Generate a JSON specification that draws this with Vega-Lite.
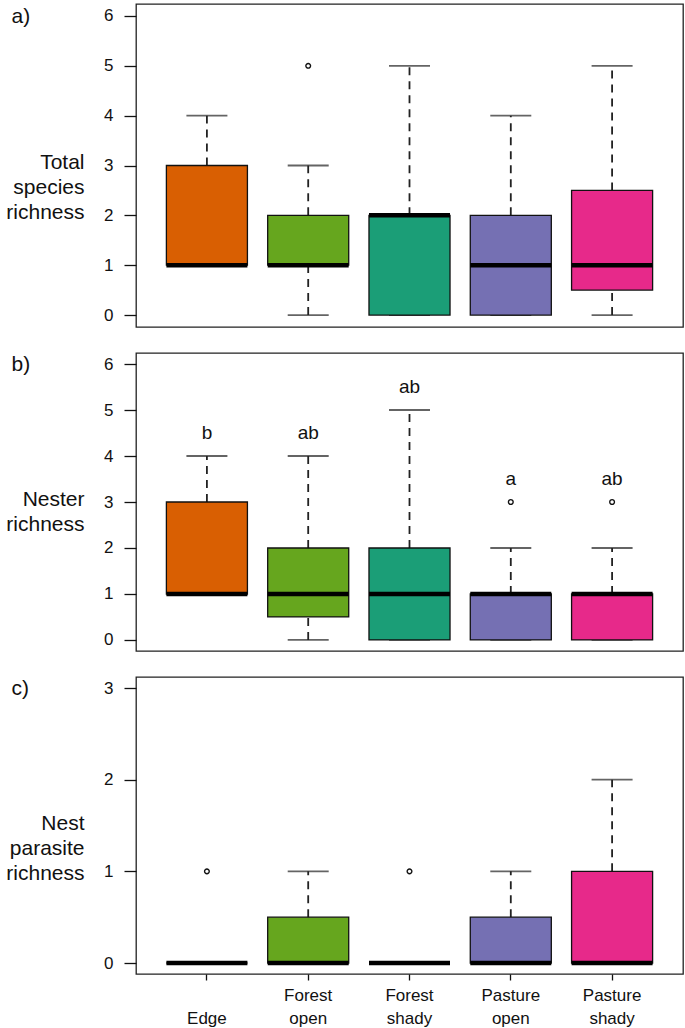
{
  "$schema": "https://vega.github.io/schema/vega-lite/v6.json",
  "padding": {"left": 5, "top": 3, "right": 3, "bottom": 0},
  "background": "white",
  "spacing": 24,
  "config": {
    "font": "Liberation Sans",
    "view": {"stroke": "#222", "strokeWidth": 1.3},
    "axis": {"grid": false, "labelFont": "Liberation Sans", "labelFontSize": 17, "labelColor": "#111", "tickColor": "#111", "tickWidth": 1.3, "domain": false, "titleFont": "Liberation Sans", "titleFontWeight": "normal", "titleColor": "#111"}
  },
  "datasets": {
    "boxes": [
      {"panel": "a", "habitat": "Edge", "lo": 1, "q1": 1, "med": 1, "q3": 3, "hi": 4},
      {"panel": "a", "habitat": "Forest open", "lo": 0, "q1": 1, "med": 1, "q3": 2, "hi": 3},
      {"panel": "a", "habitat": "Forest shady", "lo": 0, "q1": 0, "med": 2, "q3": 2, "hi": 5},
      {"panel": "a", "habitat": "Pasture open", "lo": 0, "q1": 0, "med": 1, "q3": 2, "hi": 4},
      {"panel": "a", "habitat": "Pasture shady", "lo": 0, "q1": 0.5, "med": 1, "q3": 2.5, "hi": 5},
      {"panel": "b", "habitat": "Edge", "lo": 1, "q1": 1, "med": 1, "q3": 3, "hi": 4},
      {"panel": "b", "habitat": "Forest open", "lo": 0, "q1": 0.5, "med": 1, "q3": 2, "hi": 4},
      {"panel": "b", "habitat": "Forest shady", "lo": 0, "q1": 0, "med": 1, "q3": 2, "hi": 5},
      {"panel": "b", "habitat": "Pasture open", "lo": 0, "q1": 0, "med": 1, "q3": 1, "hi": 2},
      {"panel": "b", "habitat": "Pasture shady", "lo": 0, "q1": 0, "med": 1, "q3": 1, "hi": 2},
      {"panel": "c", "habitat": "Edge", "lo": 0, "q1": 0, "med": 0, "q3": 0, "hi": 0},
      {"panel": "c", "habitat": "Forest open", "lo": 0, "q1": 0, "med": 0, "q3": 0.5, "hi": 1},
      {"panel": "c", "habitat": "Forest shady", "lo": 0, "q1": 0, "med": 0, "q3": 0, "hi": 0},
      {"panel": "c", "habitat": "Pasture open", "lo": 0, "q1": 0, "med": 0, "q3": 0.5, "hi": 1},
      {"panel": "c", "habitat": "Pasture shady", "lo": 0, "q1": 0, "med": 0, "q3": 1, "hi": 2}
    ],
    "outliers": [
      {"panel": "a", "habitat": "Forest open", "value": 5},
      {"panel": "b", "habitat": "Pasture open", "value": 3},
      {"panel": "b", "habitat": "Pasture shady", "value": 3},
      {"panel": "c", "habitat": "Edge", "value": 1},
      {"panel": "c", "habitat": "Forest shady", "value": 1}
    ],
    "letters": [
      {"habitat": "Edge", "label": "b", "pos": 4.5},
      {"habitat": "Forest open", "label": "ab", "pos": 4.5},
      {"habitat": "Forest shady", "label": "ab", "pos": 5.5},
      {"habitat": "Pasture open", "label": "a", "pos": 3.5},
      {"habitat": "Pasture shady", "label": "ab", "pos": 3.5}
    ]
  },
  "vconcat": [
    {
      "width": 547, "height": 323,
      "layer": [
        {"data": {"name": "boxes"}, "transform": [{"filter": "datum.panel == 'a'"}], "mark": {"type": "rule", "color": "#222", "strokeWidth": 1.8, "strokeDash": [8, 6]},
         "encoding": {"x": {"field": "habitat", "type": "nominal", "scale": {"type": "band", "domain": ["Edge", "Forest open", "Forest shady", "Pasture open", "Pasture shady"], "paddingInner": 0.2, "paddingOuter": 0.3},
             "axis": {"orient": "top", "labels": false, "ticks": false, "domain": false, "title": "a)", "titleFontSize": 21, "titleX": -125, "titleY": 12, "titleAlign": "left", "titleBaseline": "middle", "titleAngle": 0}},
           "y": {"field": "q3", "type": "quantitative", "scale": {"domain": [-0.24, 6.24], "nice": false, "zero": false}, "axis": {"values": [0, 1, 2, 3, 4, 5, 6], "format": "d", "labelFontSize": 17, "tickSize": 12, "labelPadding": 11, "title": ["Total", "species", "richness"], "titleFontSize": 21, "titleLineHeight": 25, "titleAngle": 0, "titleAlign": "right", "titleBaseline": "middle", "titleX": -52, "titleY": 158}},
           "y2": {"field": "hi"}}},
        {"data": {"name": "boxes"}, "transform": [{"filter": "datum.panel == 'a'"}], "mark": {"type": "rule", "color": "#222", "strokeWidth": 1.8, "strokeDash": [8, 6]},
         "encoding": {"x": {"field": "habitat", "type": "nominal"}, "y": {"field": "lo", "type": "quantitative"}, "y2": {"field": "q1"}}},
        {"data": {"name": "boxes"}, "transform": [{"filter": "datum.panel == 'a'"}, {"fold": ["lo", "hi"], "as": ["which", "cap"]}], "mark": {"type": "tick", "color": "#222", "size": 41, "thickness": 1.8, "orient": "horizontal"},
         "encoding": {"x": {"field": "habitat", "type": "nominal"}, "y": {"field": "cap", "type": "quantitative"}}},
        {"data": {"name": "boxes"}, "transform": [{"filter": "datum.panel == 'a'"}], "mark": {"type": "bar", "stroke": "#111", "strokeWidth": 1.3},
         "encoding": {"x": {"field": "habitat", "type": "nominal"}, "y": {"field": "q1", "type": "quantitative"}, "y2": {"field": "q3"},
           "color": {"field": "habitat", "type": "nominal", "scale": {"domain": ["Edge", "Forest open", "Forest shady", "Pasture open", "Pasture shady"], "range": ["#D95F02", "#66A61E", "#1B9E77", "#7570B3", "#E7298A"]}, "legend": null}}},
        {"data": {"name": "boxes"}, "transform": [{"filter": "datum.panel == 'a'"}], "mark": {"type": "tick", "color": "#000", "size": 81, "thickness": 4.5, "orient": "horizontal", "opacity": 1},
         "encoding": {"x": {"field": "habitat", "type": "nominal"}, "y": {"field": "med", "type": "quantitative"}}},
        {"data": {"name": "outliers"}, "transform": [{"filter": "datum.panel == 'a'"}], "mark": {"type": "point", "shape": "circle", "filled": false, "stroke": "#111", "strokeWidth": 1.4, "size": 22, "opacity": 1},
         "encoding": {"x": {"field": "habitat", "type": "nominal"}, "y": {"field": "value", "type": "quantitative"}}}
      ]
    },
    {
      "width": 547, "height": 298,
      "layer": [
        {"data": {"name": "boxes"}, "transform": [{"filter": "datum.panel == 'b'"}], "mark": {"type": "rule", "color": "#222", "strokeWidth": 1.8, "strokeDash": [8, 6]},
         "encoding": {"x": {"field": "habitat", "type": "nominal", "scale": {"type": "band", "domain": ["Edge", "Forest open", "Forest shady", "Pasture open", "Pasture shady"], "paddingInner": 0.2, "paddingOuter": 0.3},
             "axis": {"orient": "top", "labels": false, "ticks": false, "domain": false, "title": "b)", "titleFontSize": 21, "titleX": -125, "titleY": 11, "titleAlign": "left", "titleBaseline": "middle", "titleAngle": 0}},
           "y": {"field": "q3", "type": "quantitative", "scale": {"domain": [-0.24, 6.24], "nice": false, "zero": false}, "axis": {"values": [0, 1, 2, 3, 4, 5, 6], "format": "d", "labelFontSize": 17, "tickSize": 12, "labelPadding": 11, "title": ["Nester", "richness"], "titleFontSize": 21, "titleLineHeight": 25, "titleAngle": 0, "titleAlign": "right", "titleBaseline": "middle", "titleX": -52, "titleY": 146}},
           "y2": {"field": "hi"}}},
        {"data": {"name": "boxes"}, "transform": [{"filter": "datum.panel == 'b'"}], "mark": {"type": "rule", "color": "#222", "strokeWidth": 1.8, "strokeDash": [8, 6]},
         "encoding": {"x": {"field": "habitat", "type": "nominal"}, "y": {"field": "lo", "type": "quantitative"}, "y2": {"field": "q1"}}},
        {"data": {"name": "boxes"}, "transform": [{"filter": "datum.panel == 'b'"}, {"fold": ["lo", "hi"], "as": ["which", "cap"]}], "mark": {"type": "tick", "color": "#222", "size": 41, "thickness": 1.8, "orient": "horizontal"},
         "encoding": {"x": {"field": "habitat", "type": "nominal"}, "y": {"field": "cap", "type": "quantitative"}}},
        {"data": {"name": "boxes"}, "transform": [{"filter": "datum.panel == 'b'"}], "mark": {"type": "bar", "stroke": "#111", "strokeWidth": 1.3},
         "encoding": {"x": {"field": "habitat", "type": "nominal"}, "y": {"field": "q1", "type": "quantitative"}, "y2": {"field": "q3"},
           "color": {"field": "habitat", "type": "nominal", "scale": {"domain": ["Edge", "Forest open", "Forest shady", "Pasture open", "Pasture shady"], "range": ["#D95F02", "#66A61E", "#1B9E77", "#7570B3", "#E7298A"]}, "legend": null}}},
        {"data": {"name": "boxes"}, "transform": [{"filter": "datum.panel == 'b'"}], "mark": {"type": "tick", "color": "#000", "size": 81, "thickness": 4.5, "orient": "horizontal", "opacity": 1},
         "encoding": {"x": {"field": "habitat", "type": "nominal"}, "y": {"field": "med", "type": "quantitative"}}},
        {"data": {"name": "outliers"}, "transform": [{"filter": "datum.panel == 'b'"}], "mark": {"type": "point", "shape": "circle", "filled": false, "stroke": "#111", "strokeWidth": 1.4, "size": 22, "opacity": 1},
         "encoding": {"x": {"field": "habitat", "type": "nominal"}, "y": {"field": "value", "type": "quantitative"}}},
        {"data": {"name": "letters"}, "mark": {"type": "text", "fontSize": 19, "color": "#111", "baseline": "middle"},
         "encoding": {"x": {"field": "habitat", "type": "nominal"}, "y": {"field": "pos", "type": "quantitative"}, "text": {"field": "label"}}}
      ]
    },
    {
      "width": 547, "height": 297,
      "resolve": {"axis": {"x": "independent"}},
      "layer": [
        {"data": {"name": "boxes"}, "transform": [{"filter": "datum.panel == 'c'"}], "mark": {"type": "rule", "color": "#222", "strokeWidth": 1.8, "strokeDash": [8, 6]},
         "encoding": {"x": {"field": "habitat", "type": "nominal", "scale": {"type": "band", "domain": ["Edge", "Forest open", "Forest shady", "Pasture open", "Pasture shady"], "paddingInner": 0.2, "paddingOuter": 0.3},
             "axis": {"orient": "bottom", "title": null, "labelAngle": 0, "labelFontSize": 17, "tickSize": 6, "labelPadding": 7, "labelLineHeight": 23, "labelBaseline": "top", "labelExpr": "datum.label == 'Edge' ? ['', 'Edge'] : split(datum.label, ' ')"}},
           "y": {"field": "q3", "type": "quantitative", "scale": {"domain": [-0.12, 3.12], "nice": false, "zero": false}, "axis": {"values": [0, 1, 2, 3], "format": "d", "labelFontSize": 17, "tickSize": 12, "labelPadding": 11, "title": ["Nest", "parasite", "richness"], "titleFontSize": 21, "titleLineHeight": 25, "titleAngle": 0, "titleAlign": "right", "titleBaseline": "middle", "titleX": -52, "titleY": 146}},
           "y2": {"field": "hi"}}},
        {"data": {"name": "boxes"}, "transform": [{"filter": "datum.panel == 'c'"}], "mark": {"type": "rule", "color": "#222", "strokeWidth": 1.8, "strokeDash": [8, 6]},
         "encoding": {"x": {"field": "habitat", "type": "nominal", "axis": null}, "y": {"field": "lo", "type": "quantitative"}, "y2": {"field": "q1"}}},
        {"data": {"name": "boxes"}, "transform": [{"filter": "datum.panel == 'c'"}, {"fold": ["lo", "hi"], "as": ["which", "cap"]}], "mark": {"type": "tick", "color": "#222", "size": 41, "thickness": 1.8, "orient": "horizontal"},
         "encoding": {"x": {"field": "habitat", "type": "nominal", "axis": null}, "y": {"field": "cap", "type": "quantitative"}}},
        {"data": {"name": "boxes"}, "transform": [{"filter": "datum.panel == 'c'"}], "mark": {"type": "bar", "stroke": "#111", "strokeWidth": 1.3},
         "encoding": {"x": {"field": "habitat", "type": "nominal", "axis": null}, "y": {"field": "q1", "type": "quantitative"}, "y2": {"field": "q3"},
           "color": {"field": "habitat", "type": "nominal", "scale": {"domain": ["Edge", "Forest open", "Forest shady", "Pasture open", "Pasture shady"], "range": ["#D95F02", "#66A61E", "#1B9E77", "#7570B3", "#E7298A"]}, "legend": null}}},
        {"data": {"name": "boxes"}, "transform": [{"filter": "datum.panel == 'c'"}], "mark": {"type": "tick", "color": "#000", "size": 81, "thickness": 4.5, "orient": "horizontal", "opacity": 1},
         "encoding": {"x": {"field": "habitat", "type": "nominal", "axis": null}, "y": {"field": "med", "type": "quantitative"}}},
        {"data": {"name": "outliers"}, "transform": [{"filter": "datum.panel == 'c'"}], "mark": {"type": "point", "shape": "circle", "filled": false, "stroke": "#111", "strokeWidth": 1.4, "size": 22, "opacity": 1},
         "encoding": {"x": {"field": "habitat", "type": "nominal", "axis": {"orient": "top", "labels": false, "ticks": false, "domain": false, "title": "c)", "titleFontSize": 21, "titleX": -125, "titleY": 11, "titleAlign": "left", "titleBaseline": "middle", "titleAngle": 0}}, "y": {"field": "value", "type": "quantitative"}}}
      ]
    }
  ]
}
